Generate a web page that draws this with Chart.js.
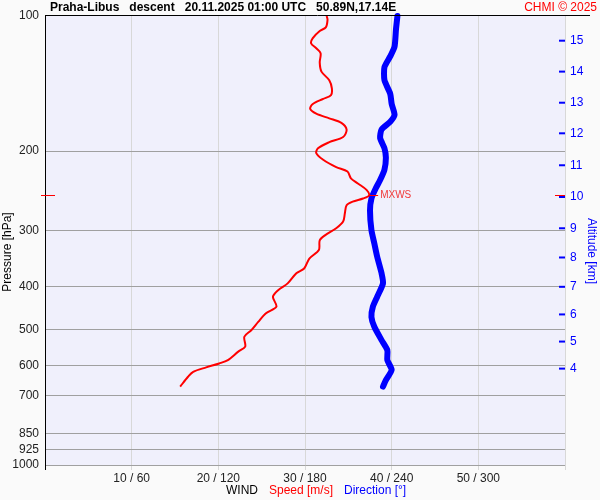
<!DOCTYPE html>
<html>
<head>
<meta charset="utf-8">
<script src="https://cdn.jsdelivr.net/npm/chart.js@4.4.1/dist/chart.umd.min.js"></script>
<style>
  html, body { margin: 0; padding: 0; background: #fafafa; }
</style>
</head>
<body>
<canvas id="chart" width="600" height="500"></canvas>
<script>
// wind speed profile (m/s) against pressure (hPa)
const speedPres = [100,102,106,108,112,115,118,121,127,133,139,145,150,153,157,161,165,169,173,179,186,191,197,202,209,217,222,230,236,244,251,255,259,264,275,287,297,308,316,332,347,365,374,394,408,422,444,459,480,501,518,545,559,584,594,606,620,636,669];
const speedVal = [32.5,32.6,32.4,31.7,30.9,30.7,31.3,31.8,31.7,31.9,32.8,33.1,33.0,32.1,30.9,30.6,31.3,32.8,34.2,34.8,34.4,32.8,31.5,31.3,32.1,33.6,34.9,35.3,36.1,37.1,37.4,36.7,35.5,34.8,34.6,34.4,33.6,32.3,31.7,31.6,30.5,29.9,29.0,28.0,26.9,26.3,26.7,25.5,24.6,23.8,23.0,23.1,22.3,21.1,20.1,18.6,17.1,16.5,15.6];

// wind direction profile (deg) against pressure (hPa)
const dirPres = [100,107,117,123,130,139,149,157,166,172,179,187,197,207,220,232,242,255,271,300,321,344,374,394,422,444,468,492,527,555,584,614,647,669];
const dirVal = [244,243,242,239,235,235,239,240,242,239,233,232,235,236,235,232,229,226,225,226,228,230,233,234,230,227,226,228,233,237,237,240,236,234];

// max wind level
const mxwsSpeed = 37.4;
const mxwsPres = 251;

// axes
const presTicks = [100,200,300,400,500,600,700,850,925,1000];
const speedTicks = [0,10,20,30,40,50,60];
const windLabels = ['', '10 / 60', '20 / 120', '30 / 180', '40 / 240', '50 / 300', ''];
const altKm = [4,5,6,7,8,9,10,11,12,13,14,15];
const altPres = [610,531,462,401,345,297,253,215,182.5,156,133,113.5];

const FONT = '"Liberation Sans", Arial, sans-serif';
Chart.defaults.font.family = FONT;
Chart.defaults.font.size = 12;

const extras = {
  id: 'extras',
  beforeDraw(chart) {
    const { ctx, chartArea: a } = chart;
    ctx.save();
    ctx.fillStyle = '#fafafa';
    ctx.fillRect(0, 0, chart.width, chart.height);
    ctx.fillStyle = '#f0f0fc';
    ctx.fillRect(a.left, a.top, a.right - a.left, a.bottom - a.top);
    ctx.restore();
  },
  afterDraw(chart) {
    const { ctx, chartArea: a, scales } = chart;
    ctx.save();
    // top line
    ctx.strokeStyle = '#000';
    ctx.lineWidth = 1;
    ctx.beginPath();
    ctx.moveTo(a.left, Math.round(a.top) - 0.5);
    ctx.lineTo(590, Math.round(a.top) - 0.5);
    ctx.stroke();

    // title
    ctx.textBaseline = 'middle';
    ctx.fillStyle = '#000';
    ctx.font = 'bold 12px ' + FONT;
    ctx.textAlign = 'left';
    ctx.fillText('Praha-Libus   descent   20.11.2025 01:00 UTC   50.89N,17.14E', 50, 8);
    ctx.font = '12px ' + FONT;
    ctx.fillStyle = '#ff0000';
    ctx.textAlign = 'right';
    ctx.fillText('CHMI \u00a9 2025', 597, 8);

    // altitude tick marks
    ctx.strokeStyle = '#0000ff';
    ctx.lineWidth = 2;
    altPres.forEach(p => {
      const y = scales.y2.getPixelForValue(p);
      ctx.beginPath();
      ctx.moveTo(a.right - 6, y);
      ctx.lineTo(a.right, y);
      ctx.stroke();
    });

    // MXWS
    const mx = scales.x.getPixelForValue(mxwsSpeed);
    const my = Math.round(scales.y.getPixelForValue(mxwsPres)) + 0.5;
    ctx.strokeStyle = '#ff0000';
    ctx.lineWidth = 1;
    ctx.beginPath();
    ctx.moveTo(mx, my); ctx.lineTo(mx + 9, my);
    ctx.moveTo(a.left - 4, my); ctx.lineTo(a.left + 10, my);
    ctx.moveTo(a.right - 10, my); ctx.lineTo(a.right, my);
    ctx.stroke();
    ctx.fillStyle = '#f03a3a';
    ctx.font = '10px ' + FONT;
    ctx.textAlign = 'left';
    ctx.fillText('MXWS', mx + 11, my);

    // x axis title
    ctx.font = '12px ' + FONT;
    let x = 226;
    [['WIND', '#000'], ['Speed [m/s]', '#ff0000'], ['Direction [\u00b0]', '#0000ff']].forEach(([t, c]) => {
      ctx.fillStyle = c;
      ctx.fillText(t, x, 491);
      x += ctx.measureText(t).width + 11;
    });

    // y axis titles
    ctx.save();
    ctx.translate(8, 252);
    ctx.rotate(-Math.PI / 2);
    ctx.textAlign = 'center';
    ctx.fillStyle = '#000';
    ctx.fillText('Pressure [hPa]', 0, 0);
    ctx.restore();

    ctx.save();
    ctx.translate(591, 251);
    ctx.rotate(Math.PI / 2);
    ctx.textAlign = 'center';
    ctx.fillStyle = '#0000ff';
    ctx.fillText('Altitude [km]', 0, 0);
    ctx.restore();

    ctx.restore();
  }
};

const ctx = document.getElementById('chart').getContext('2d');
new Chart(ctx, {
  type: 'scatter',
  data: {
    datasets: [
      {
        label: 'Speed',
        data: speedVal.map((v, i) => ({ x: v, y: speedPres[i] })),
        showLine: true,
        borderColor: '#ff0000',
        borderWidth: 2,
        pointRadius: 0,
        tension: 0.3,
        yAxisID: 'y'
      },
      {
        label: 'Direction',
        data: dirVal.map((v, i) => ({ x: v / 6, y: dirPres[i] })),
        showLine: true,
        borderColor: '#0000ff',
        borderWidth: 6,
        borderJoinStyle: 'round',
        borderCapStyle: 'round',
        pointRadius: 0,
        tension: 0.2,
        clip: false,
        yAxisID: 'y'
      }
    ]
  },
  options: {
    responsive: false,
    animation: false,
    events: [],
    layout: { padding: { top: 16, left: 0, right: 0, bottom: 0 } },
    plugins: { legend: { display: false }, tooltip: { enabled: false } },
    scales: {
      x: {
        type: 'linear',
        min: 0,
        max: 60,
        afterBuildTicks: s => { s.ticks = speedTicks.map(v => ({ value: v })); },
        afterFit: s => { s.height = 35; },
        ticks: {
          color: '#222',
          maxRotation: 0,
          padding: 1,
          callback: (v, i) => windLabels[i]
        },
        grid: {
          color: c => (c.tick && c.tick.value === 0 ? '#000' : '#d8d8d8'),
          tickLength: 5,
          tickColor: c => (c.tick && c.tick.value === 0 ? '#000' : '#d8d8d8')
        },
        border: { display: false }
      },
      y: {
        type: 'logarithmic',
        position: 'left',
        min: 100,
        max: 1000,
        reverse: true,
        afterBuildTicks: s => { s.ticks = presTicks.map(v => ({ value: v })); },
        afterFit: s => { s.width = 45; },
        ticks: {
          color: '#222',
          padding: 6,
          autoSkip: false,
          callback: v => String(v)
        },
        grid: {
          color: c => (c.tick && c.tick.value === 100 ? 'rgba(0,0,0,0)' : '#a0a0a0'),
          drawTicks: false
        },
        border: { display: true, color: '#000', width: 1 }
      },
      y2: {
        type: 'logarithmic',
        position: 'right',
        min: 100,
        max: 1000,
        reverse: true,
        afterBuildTicks: s => { s.ticks = altPres.map(v => ({ value: v })); },
        afterFit: s => { s.width = 35; },
        ticks: {
          color: '#0000ff',
          padding: 5,
          autoSkip: false,
          callback: (v, i) => String(altKm[i])
        },
        grid: { drawOnChartArea: false, drawTicks: false },
        border: { display: false }
      }
    }
  },
  plugins: [extras]
});
</script>
</body>
</html>
